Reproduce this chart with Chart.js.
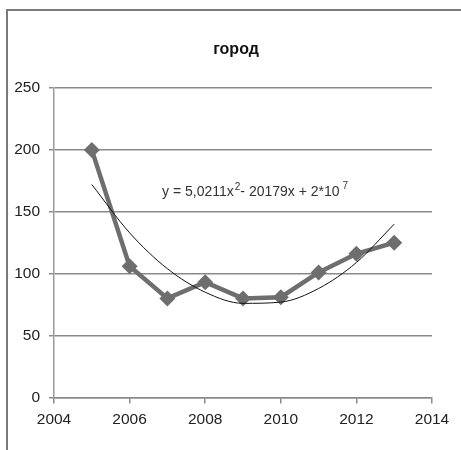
<!DOCTYPE html>
<html>
<head>
<meta charset="utf-8">
<script src="https://cdn.jsdelivr.net/npm/chart.js@4"></script>
<style>
  html, body { margin: 0; padding: 0; background: #fff; overflow: hidden; }
  #wrap { position: relative; width: 461px; height: 450px; }
  #frame { position: absolute; left: 6px; top: 9px; width: 500px; height: 500px;
           border: 2px solid #7a7a7a; pointer-events: none; }
</style>
</head>
<body>
<div id="wrap">
  <canvas id="cityChart" width="461" height="450"></canvas>
  <div id="frame"></div>
</div>
<script>
const years = [2005, 2006, 2007, 2008, 2009, 2010, 2011, 2012, 2013]
const cityValues = [200, 106, 80, 93, 80, 81, 101, 116, 125]
// trend line
const trendValues = [172, 133, 104, 85, 76, 77, 88, 109, 140]
const xTicks = [2004, 2006, 2008, 2010, 2012, 2014]
const yTicks = [0, 50, 100, 150, 200, 250]
const chartTitle = 'город'
const equation = ['y = 5,0211x', '2', '- 20179x + 2*10', '7']

const fontFamily = '"Liberation Sans Narrow", "Liberation Sans", Arial, sans-serif'

const toPoints = values => values.map((y, i) => ({x: years[i], y}))

// title and trend equation drawn on the canvas
const textLabels = {
    id: 'textLabels',
    afterDatasetsDraw(chart) {
        const {ctx, scales} = chart
        ctx.save()
        ctx.fillStyle = '#111'
        ctx.textAlign = 'center'
        ctx.textBaseline = 'middle'
        ctx.font = `bold 16px ${fontFamily}`
        ctx.fillText(chartTitle, 236, 50)

        const cx = scales.x.getPixelForValue(2009.32)
        const cy = scales.y.getPixelForValue(165.5)
        const big = `14px ${fontFamily}`
        const small = `10px ${fontFamily}`
        ctx.fillStyle = '#333'
        ctx.textAlign = 'left'
        const parts = [
            {text: equation[0], font: big, dy: 0, gap: 0},
            {text: equation[1], font: small, dy: -5, gap: 1},
            {text: equation[2], font: big, dy: 0, gap: 0},
            {text: equation[3], font: small, dy: -6, gap: 3},
        ]
        let total = 0
        for (const p of parts) {
            ctx.font = p.font
            p.w = ctx.measureText(p.text).width
            total += p.w + p.gap
        }
        let x = cx - total / 2
        for (const p of parts) {
            ctx.font = p.font
            x += p.gap
            ctx.fillText(p.text, x, cy + p.dy)
            x += p.w
        }
        ctx.restore()
    }
}

const cityChart = document.getElementById('cityChart')
new Chart(cityChart, {
    type: 'scatter',
    data: {
        datasets: [
            {
                label: 'город',
                data: toPoints(cityValues),
                showLine: true,
                borderColor: '#6e6e6e',
                backgroundColor: '#6e6e6e',
                borderWidth: 4.5,
                pointStyle: 'rectRot',
                pointRadius: 8,
                pointBorderWidth: 0,
                tension: 0,
                order: 1
            },
            {
                label: 'тренд',
                data: toPoints(trendValues),
                showLine: true,
                borderColor: '#111',
                borderWidth: 1,
                pointRadius: 0,
                tension: 0.4,
                cubicInterpolationMode: 'monotone',
                order: 0
            }
        ]
    },
    options: {
        responsive: false,
        animation: false,
        layout: {padding: {left: 12, right: 29, top: 88, bottom: 14}},
        plugins: {
            legend: {display: false},
            tooltip: {enabled: false},
            title: {display: false}
        },
        scales: {
            x: {
                type: 'linear',
                min: 2004,
                max: 2014,
                afterBuildTicks: scale => { scale.ticks = xTicks.map(value => ({value})) },
                ticks: {
                    color: '#222',
                    font: {family: fontFamily, size: 15.5},
                    padding: 7,
                    maxRotation: 0,
                    callback: v => String(v)
                },
                grid: {drawOnChartArea: false, tickLength: 6, color: '#8a8a8a', lineWidth: 1.5},
                border: {color: '#8a8a8a', width: 1.5}
            },
            y: {
                min: 0,
                max: 250,
                afterBuildTicks: scale => { scale.ticks = yTicks.map(value => ({value})) },
                afterFit: scale => { scale.width = 42 },
                ticks: {
                    color: '#222',
                    font: {family: fontFamily, size: 15.5},
                    padding: 9
                },
                grid: {tickLength: 5, color: '#8a8a8a', lineWidth: 1.5},
                border: {color: '#9a9a9a', width: 1.5}
            }
        }
    },
    plugins: [textLabels]
})
</script>
</body>
</html>
